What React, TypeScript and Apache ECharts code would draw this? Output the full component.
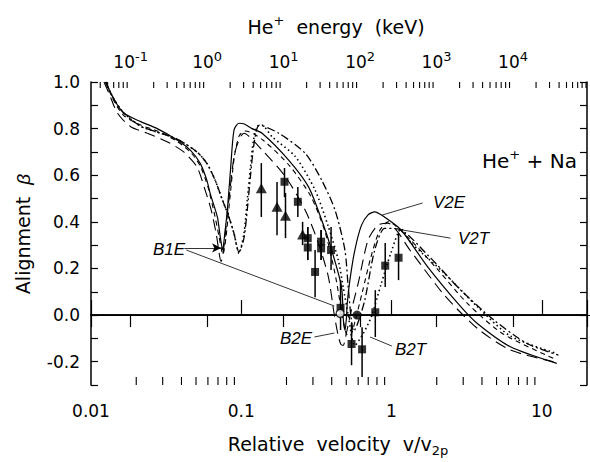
import React, { useEffect, useRef } from 'react';
import * as echarts from 'echarts';

const SANS = '"Liberation Sans", Arial, sans-serif';
const WIDE = '"DejaVu Sans", "Liberation Sans", sans-serif';

// Model curves: relative velocity v/v2p and alignment beta
const v2eV = [0.0125, 0.0143, 0.0166, 0.0214, 0.0276, 0.0374, 0.0458, 0.0533, 0.059, 0.0621, 0.0694, 0.0723, 0.0752, 0.078, 0.0808, 0.0851, 0.0895, 0.0965, 0.105, 0.118, 0.1376, 0.2067, 0.2803, 0.343, 0.3996, 0.465, 0.478, 0.49, 0.5, 0.5074, 0.5284, 0.5702, 0.6305, 0.698, 0.7733, 0.9, 1.159, 1.74, 2.889, 3.724, 6.183, 12.59];
const v2eBeta = [1.0, 0.923, 0.866, 0.83, 0.8, 0.751, 0.708, 0.651, 0.579, 0.522, 0.42, 0.34, 0.28, 0.36, 0.45, 0.636, 0.794, 0.823, 0.82, 0.80, 0.78, 0.665, 0.55, 0.408, 0.279, 0.12, -0.02, -0.065, -0.02, 0.05, 0.15, 0.279, 0.385, 0.43, 0.443, 0.42, 0.365, 0.207, 0.036, -0.036, -0.136, -0.207];

const b2eV = [0.0122, 0.0132, 0.01502, 0.01838, 0.0237, 0.0321, 0.0414, 0.0507, 0.0575, 0.0631, 0.0681, 0.0734, 0.0769, 0.0829, 0.0909, 0.1042, 0.1376, 0.1966, 0.2666, 0.3263, 0.38, 0.4163, 0.4422, 0.46, 0.477, 0.5, 0.531, 0.6, 0.698, 0.813, 0.946, 1.349, 2.244, 3.724, 6.183, 11.97];
const b2eBeta = [1.0, 0.95, 0.866, 0.808, 0.78, 0.744, 0.7, 0.636, 0.536, 0.45, 0.35, 0.23, 0.3, 0.5, 0.7, 0.78, 0.708, 0.594, 0.45, 0.308, 0.164, 0.0, -0.09, -0.125, -0.13, -0.08, 0.0, 0.136, 0.322, 0.386, 0.394, 0.272, 0.086, -0.057, -0.15, -0.2];

const b2tV = [0.0125, 0.0143, 0.0166, 0.0214, 0.0276, 0.0374, 0.0507, 0.059, 0.067, 0.0749, 0.0826, 0.0895, 0.0965, 0.1042, 0.1096, 0.1153, 0.1205, 0.128, 0.137, 0.1603, 0.229, 0.31, 0.38, 0.4422, 0.477, 0.515, 0.5702, 0.647, 0.734, 0.855, 0.9954, 1.159, 1.349, 2.244, 3.724, 6.183, 12.59];
const b2tBeta = [1.0, 0.923, 0.866, 0.81, 0.785, 0.755, 0.7, 0.651, 0.579, 0.494, 0.422, 0.35, 0.265, 0.35, 0.494, 0.636, 0.75, 0.81, 0.815, 0.765, 0.68, 0.536, 0.379, 0.236, 0.12, 0.0, -0.13, -0.08, -0.007, 0.136, 0.27, 0.37, 0.31, 0.18, 0.036, -0.09, -0.165];

const v2tV = [0.0125, 0.0143, 0.0166, 0.0214, 0.0276, 0.0374, 0.0507, 0.059, 0.067, 0.0749, 0.0826, 0.0895, 0.0965, 0.1042, 0.1096, 0.1153, 0.122, 0.132, 0.178, 0.2666, 0.343, 0.421, 0.4895, 0.515, 0.54, 0.56, 0.6, 0.664, 0.7733, 0.9, 1.103, 1.74, 2.889, 4.8, 7.97, 12.91];
const v2tBeta = [1.0, 0.923, 0.866, 0.81, 0.785, 0.755, 0.7, 0.651, 0.579, 0.494, 0.422, 0.35, 0.27, 0.33, 0.45, 0.6, 0.74, 0.815, 0.78, 0.694, 0.579, 0.45, 0.279, 0.12, -0.02, -0.07, -0.03, 0.064, 0.279, 0.372, 0.37, 0.258, 0.107, -0.021, -0.122, -0.172];

const b1eV = [0.0125, 0.0143, 0.0166, 0.0214, 0.0276, 0.0374, 0.0458, 0.0533, 0.06, 0.066, 0.071, 0.0755, 0.079, 0.084, 0.09, 0.097, 0.107, 0.14, 0.21, 0.29, 0.36, 0.42, 0.47, 0.5, 0.53, 0.57, 0.64, 0.73, 0.83, 0.95, 1.3, 2.0, 3.2, 5.5, 12.4];
const b1eBeta = [1.0, 0.915, 0.855, 0.815, 0.79, 0.745, 0.7, 0.64, 0.55, 0.44, 0.34, 0.26, 0.33, 0.5, 0.68, 0.77, 0.79, 0.75, 0.64, 0.51, 0.36, 0.18, 0.0, -0.08, -0.09, -0.03, 0.1, 0.25, 0.36, 0.4, 0.33, 0.2, 0.05, -0.08, -0.19];

// Measurements: velocity, beta, lower and upper error limits
const triV = [0.136, 0.173, 0.197, 0.256];
const triBeta = [0.544, 0.465, 0.426, 0.346];
const triLo = [0.421, 0.343, 0.33, 0.3];
const triHi = [0.652, 0.571, 0.524, 0.4];

const sqV = [0.194, 0.238, 0.277, 0.277, 0.34, 0.34, 0.396, 0.31, 0.458, 0.542, 0.637, 0.78, 0.908, 1.114];
const sqBeta = [0.572, 0.486, 0.33, 0.29, 0.315, 0.286, 0.279, 0.185, 0.031, -0.124, -0.147, 0.012, 0.212, 0.246];
const sqLo = [0.506, 0.421, 0.236, 0.236, 0.236, 0.236, 0.193, 0.077, -0.064, -0.215, -0.266, -0.094, 0.12, 0.15];
const sqHi = [0.631, 0.549, 0.378, 0.378, 0.365, 0.365, 0.378, 0.279, 0.15, -0.034, -0.052, 0.107, 0.309, 0.352];

const dotV = [0.59];
const dotBeta = [0.0];
const openV = [0.455];
const openBeta = [0.007];

// Axis ranges
const vMin = 0.01;
const vMax = 20;
const eMin = 0.0303; // keV
const eMax = 92700;
const betaMin = -0.3;
const betaMax = 1.0;

const minorMultipliers = [2, 3, 4, 5, 6, 7, 8, 9];

function minorTicks(lo: number, hi: number): number[] {
  const out: number[] = [];
  for (let e = Math.floor(Math.log10(lo)); e <= Math.ceil(Math.log10(hi)); e++) {
    for (const m of minorMultipliers) {
      const val = m * Math.pow(10, e);
      if (val > lo && val < hi) out.push(val);
    }
  }
  return out;
}

const zip = (a: number[], b: number[]) => a.map((x, i) => [x, b[i]]);

function isDecade(value: number) {
  const e = Math.log10(value);
  return Math.abs(e - Math.round(e)) < 1e-6;
}

function curve(name: string, xs: number[], ys: number[], type: any, width = 1.1) {
  return {
    name,
    type: 'line',
    xAxisIndex: 0,
    yAxisIndex: 0,
    data: zip(xs, ys),
    showSymbol: false,
    smooth: 0.25,
    lineStyle: { color: '#000', width, type },
    silent: true,
    z: 3,
  };
}

function tickSeries(values: number[], axisIndex: number, top: boolean, len: number) {
  return {
    type: 'custom',
    xAxisIndex: axisIndex,
    yAxisIndex: 0,
    silent: true,
    data: values.map((x) => [x, 0]),
    renderItem: (params: any, api: any) => {
      const p = api.coord([api.value(0), 0]);
      const cs = params.coordSys;
      const y0 = top ? cs.y : cs.y + cs.height;
      const y1 = top ? y0 + len : y0 - len;
      return {
        type: 'line',
        shape: { x1: p[0], y1: y0, x2: p[0], y2: y1 },
        style: { stroke: '#000', lineWidth: 1.1 },
      };
    },
  };
}

function errorBars(xs: number[], lo: number[], hi: number[]) {
  return {
    type: 'custom',
    xAxisIndex: 0,
    yAxisIndex: 0,
    silent: true,
    z: 4,
    data: xs.map((x, i) => [x, lo[i], hi[i]]),
    renderItem: (params: any, api: any) => {
      const a = api.coord([api.value(0), api.value(1)]);
      const b = api.coord([api.value(0), api.value(2)]);
      return {
        type: 'line',
        shape: { x1: a[0], y1: a[1], x2: b[0], y2: b[1] },
        style: { stroke: '#000', lineWidth: 1.5 },
      };
    },
  };
}

function marks(xs: number[], ys: number[], symbol: string, size: any, style: any) {
  return {
    type: 'scatter',
    xAxisIndex: 0,
    yAxisIndex: 0,
    silent: true,
    z: 5,
    symbol,
    symbolSize: size,
    data: zip(xs, ys),
    itemStyle: style,
  };
}

const leader = (a: number[], b: number[], arrow = false) => [
  { coord: a, symbol: 'none' },
  { coord: b, symbol: arrow ? 'arrow' : 'none', symbolSize: arrow ? [7, 9] : 0 },
];

const labelItalic = (text: string, x: number, y: number) => ({
  type: 'text',
  x,
  y,
  style: {
    text,
    font: `italic 17px ${SANS}`,
    fill: '#000',
    align: 'left',
    verticalAlign: 'middle',
  },
});

const option: any = {
  animation: false,
  backgroundColor: '#fff',
  grid: { left: 91, top: 82, width: 500, height: 303, containLabel: false },
  xAxis: [
    {
      type: 'log',
      logBase: 10,
      min: vMin,
      max: vMax,
      position: 'bottom',
      axisLine: { lineStyle: { color: '#000', width: 1.5 } },
      axisTick: { inside: true, length: 15, lineStyle: { color: '#000', width: 1.2 } },
      splitLine: { show: false },
      axisLabel: {
        margin: 17,
        color: '#000',
        fontSize: 17,
        fontFamily: WIDE,
        formatter: (value: number) => {
          if (!isDecade(value)) return '';
          const e = Math.round(Math.log10(value));
          return e < 0 ? value.toFixed(-e) : String(Math.round(value));
        },
      },
    },
    {
      type: 'log',
      logBase: 10,
      min: eMin,
      max: eMax,
      position: 'top',
      axisLine: { lineStyle: { color: '#000', width: 1.5 } },
      axisTick: { inside: true, length: 12, lineStyle: { color: '#000', width: 1.2 } },
      splitLine: { show: false },
      axisLabel: {
        margin: 8,
        color: '#000',
        formatter: (value: number) => {
          if (!isDecade(value)) return '';
          const e = Math.round(Math.log10(value));
          return `{b|10}{s|${e}}`;
        },
        rich: {
          b: { fontSize: 17, fontFamily: WIDE, lineHeight: 24, color: '#000' },
          s: { fontSize: 13, fontFamily: WIDE, lineHeight: 12, verticalAlign: 'top', color: '#000' },
        },
      },
    },
  ],
  yAxis: [
    {
      type: 'value',
      min: betaMin,
      max: betaMax,
      interval: 0.1,
      position: 'left',
      axisLine: { show: true, lineStyle: { color: '#000', width: 1.5 } },
      axisTick: { show: true, inside: true, length: 7, lineStyle: { color: '#000', width: 1.2 } },
      splitLine: { show: false },
      axisLabel: {
        margin: 11,
        color: '#000',
        fontSize: 17,
        fontFamily: WIDE,
        formatter: (value: number) => {
          const k = Math.round(value * 10);
          if (k % 2 !== 0) return '';
          return (k / 10 + 0).toFixed(1);
        },
      },
    },
    {
      type: 'value',
      min: betaMin,
      max: betaMax,
      interval: 0.1,
      position: 'right',
      axisLine: { show: true, lineStyle: { color: '#000', width: 1.5 } },
      axisTick: { show: true, inside: true, length: 7, lineStyle: { color: '#000', width: 1.2 } },
      axisLabel: { show: false },
      splitLine: { show: false },
    },
  ],
  series: [
    curve('V2E', v2eV, v2eBeta, 'solid', 1.2),
    curve('B2E', b2eV, b2eBeta, [11, 6]),
    curve('B2T', b2tV, b2tBeta, [1.5, 3], 1.6),
    curve('V2T', v2tV, v2tBeta, [8, 3, 2, 3], 1.3),
    curve('B1E', b1eV, b1eBeta, [5, 4]),
    {
      type: 'line',
      xAxisIndex: 0,
      yAxisIndex: 0,
      data: [],
      silent: true,
      markLine: {
        silent: true,
        animation: false,
        symbol: ['none', 'none'],
        label: { show: false },
        lineStyle: { color: '#000', width: 0.8, type: 'solid' },
        data: [
          [{ yAxis: 0, x: 91, symbol: 'none', lineStyle: { width: 1.2 } }, { yAxis: 0, x: 591, symbol: 'none' }],
          leader([1.612, 0.481], [0.865, 0.429]),
          leader([2.47, 0.33], [1.137, 0.367]),
          leader([0.307, -0.094], [0.4163, -0.077]),
          leader([1.006, -0.133], [0.72, -0.094]),
          leader([0.0418, 0.288], [0.0734, 0.288], true),
          leader([0.0431, 0.279], [0.4163, 0.039]),
        ],
      },
    },
    tickSeries(minorTicks(vMin, vMax), 0, false, 8),
    tickSeries(minorTicks(eMin, eMax), 1, true, 6),
    errorBars(triV, triLo, triHi),
    errorBars(sqV, sqLo, sqHi),
    marks(triV, triBeta, 'triangle', [11, 10], { color: '#000' }),
    marks(sqV, sqBeta, 'rect', 8, { color: '#000' }),
    marks(dotV, dotBeta, 'circle', 9, { color: '#000' }),
    marks(openV, openBeta, 'circle', 8, { color: '#fff', borderColor: '#000', borderWidth: 1.3 }),
  ],
  graphic: [
    {
      type: 'text',
      x: 336,
      y: 27,
      style: {
        text: '{b|He}{s|+}{b|  energy  (keV)}',
        align: 'center',
        verticalAlign: 'middle',
        rich: {
          b: { fontSize: 19, fontFamily: WIDE, lineHeight: 26, fill: '#000' },
          s: { fontSize: 13, fontFamily: WIDE, lineHeight: 13, verticalAlign: 'top', fill: '#000' },
        },
      },
    },
    {
      type: 'text',
      x: 338,
      y: 444,
      style: {
        text: '{b|Relative  velocity  v/v}{s|2p}',
        align: 'center',
        verticalAlign: 'middle',
        rich: {
          b: { fontSize: 19, fontFamily: WIDE, lineHeight: 26, fill: '#000' },
          s: { fontSize: 13, fontFamily: WIDE, lineHeight: 13, verticalAlign: 'bottom', fill: '#000' },
        },
      },
    },
    {
      type: 'text',
      x: 23,
      y: 234,
      rotation: Math.PI / 2,
      style: {
        text: '{b|Alignment  }{i|β}',
        align: 'center',
        verticalAlign: 'middle',
        rich: {
          b: { fontSize: 19, fontFamily: WIDE, fill: '#000' },
          i: { fontSize: 19, fontFamily: SANS, fontStyle: 'italic', fill: '#000' },
        },
      },
    },
    {
      type: 'text',
      x: 482,
      y: 161,
      style: {
        text: '{b|He}{s|+}{b| + Na}',
        align: 'left',
        verticalAlign: 'middle',
        rich: {
          b: { fontSize: 20, fontFamily: WIDE, lineHeight: 26, fill: '#000' },
          s: { fontSize: 13, fontFamily: WIDE, lineHeight: 13, verticalAlign: 'top', fill: '#000' },
        },
      },
    },
    labelItalic('V2E', 433, 202),
    labelItalic('V2T', 458, 238),
    labelItalic('B1E', 153, 249),
    labelItalic('B2E', 280, 338),
    labelItalic('B2T', 395, 349),
  ],
};

export default function App() {
  const ref = useRef<HTMLDivElement>(null);
  useEffect(() => {
    if (!ref.current) return;
    const chart = echarts.init(ref.current, null, { renderer: 'svg' });
    chart.setOption(option);
    return () => chart.dispose();
  }, []);
  return (
    <div
      ref={ref}
      style={{ position: 'absolute', left: 0, top: 0, width: 590, height: 462, background: '#fff' }}
    />
  );
}
